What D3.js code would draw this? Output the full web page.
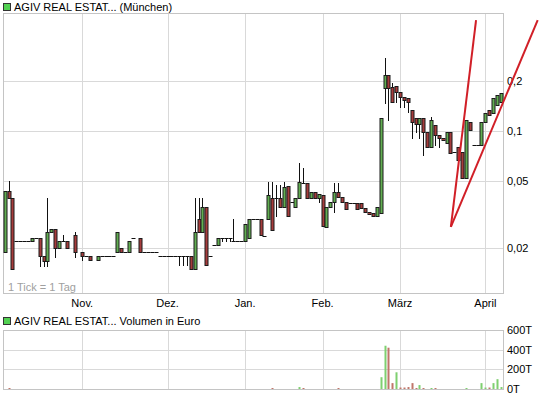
<!DOCTYPE html>
<html>
<head>
<meta charset="utf-8">
<script src="https://cdn.jsdelivr.net/npm/d3@7"></script>
<style>
body{margin:0;background:#fff}
svg{display:block;font-family:"Liberation Sans",Arial,sans-serif;font-size:11px}
</style>
</head>
<body>
<svg id="chart" width="545" height="398"></svg>
<script>
var title = "AGIV REAL ESTAT... (München)"
var volTitle = "AGIV REAL ESTAT... Volumen in Euro"
var tickNote = "1 Tick = 1 Tag"

// one entry per trading day, null = no quote
var open = [.0189,.0437,.0397,.022,.022,.022,.022,.022,.0229,.0229,
  .0179,.0167,.0248,.0259,.0199,.022,.022,null,.0238,null,
  .0189,.0179,.0179,null,.0169,.0179,.0179,.0179,.0179,.0189,
  .0199,.0189,.0189,.0229,null,.0229,.0189,.0189,.0189,.0189,
  .0179,.0179,.0179,.0179,.0179,.0179,.0179,.0179,.0179,.0149,
  .0297,.0248,.0351,.0179,.0208,.0208,.0229,.0229,.0229,.022,
  .022,.022,.022,.0229,.0297,.0297,.0297,.0235,.0297,.0397,
  .0397,.0397,.0351,.0469,.0375,.0351,.0397,.0488,.0488,.0397,
  .0431,.0397,.0414,.0266,.0351,.0376,.0431,.0403,.0376,.0371,
  .0371,.0371,.0371,.0346,.0327,.0323,.031,.0323,.1809,.2164,
  .1834,.186,.1712,.1598,.1576,.1336,.1196,.1101,.1196,.0986,
  .0802,.1086,.0946,.0908,.0847,.0986,.0749,.0802,.0749,.0523,
  .1132,.0824,.0824,.0824,.1132,.1336,.1282,.1431,.1492]
var high = [.0437,.0502,.0397,.022,.022,.022,.022,.0229,.0229,.0229,
  .0179,.0397,.0259,.0259,.022,.0238,.022,null,.0248,null,
  .0189,.0179,.0179,null,.0179,.0179,.0179,.0179,.0179,.0248,
  .0199,.0189,.022,.0229,null,.0229,.0189,.0189,.0189,.0189,
  .0179,.0179,.0179,.0179,.0179,.0179,.0179,.0179,.0179,.0397,
  .0397,.0397,.0351,.0179,.0208,.0229,.0229,.0229,.0229,.0297,
  .022,.022,.0277,.0297,.0297,.0297,.0297,.0235,.0495,.0495,
  .0475,.0475,.0495,.0469,.0375,.0397,.0643,.06,.0488,.0431,
  .0431,.042,.0414,.0351,.0376,.0488,.0488,.0403,.0376,.0371,
  .0371,.0371,.0371,.0346,.0327,.0323,.0351,.1196,.2736,.2164,
  .1938,.186,.1712,.1598,.1576,.1336,.1196,.1196,.1196,.0986,
  .1213,.1086,.0946,.0908,.0986,.0986,.0749,.0802,.0749,.1164,
  .1132,.0824,.0824,.1132,.1282,.1336,.1576,.1643,.1689]
var low = [.0189,.0397,.0149,.022,.022,.022,.022,.022,.0229,.0155,
  .0155,.0155,.0248,.0176,.0199,.022,.0199,null,.0176,null,
  .0169,.0179,.0169,null,.0169,.0179,.0179,.0179,.0179,.0189,
  .0189,.0189,.0189,.0229,null,.0189,.0189,.0189,.0189,.0189,
  .0179,.0179,.0179,.0179,.0179,.0158,.0158,.0158,.0149,.0149,
  .0248,.0248,.0158,.0179,.0208,.0208,.022,.022,.022,.022,
  .022,.022,.022,.0229,.0297,.0297,.0238,.0235,.0297,.0255,
  .031,.0351,.0351,.031,.0375,.0351,.0397,.0488,.0397,.0397,
  .0397,.0376,.027,.0266,.0351,.0327,.0403,.0376,.0341,.0371,
  .0371,.0341,.0346,.0327,.0318,.031,.031,.0323,.1472,.1164,
  .1492,.1492,.1392,.1392,.13,.0908,.0986,.0908,.0718,.0802,
  .0802,.0824,.0802,.0883,.0847,.0738,.0749,.067,.0523,.0523,
  .1014,.0824,.0824,.0824,.1132,.1247,.1282,.1431,.1492]
var close = [.0437,.0397,.0149,.022,.022,.022,.022,.0229,.0229,.0179,
  .0167,.0248,.0259,.0199,.022,.022,.0199,null,.0189,null,
  .0179,.0179,.0169,null,.0179,.0179,.0179,.0179,.0179,.0248,
  .0189,.0189,.022,.0229,null,.0189,.0189,.0189,.0189,.0189,
  .0179,.0179,.0179,.0179,.0179,.0179,.0179,.0179,.0149,.0248,
  .0248,.0351,.0158,.0179,.0208,.0229,.0229,.0229,.0229,.022,
  .022,.022,.0277,.0297,.0297,.0297,.0238,.0235,.0414,.0255,
  .0397,.0351,.0462,.031,.0375,.0397,.0495,.0488,.0397,.0431,
  .0397,.042,.027,.0351,.0376,.0431,.0403,.0376,.0341,.0371,
  .0371,.0341,.0346,.0327,.0318,.031,.0351,.1196,.2164,.1809,
  .1492,.1712,.1598,.1533,.1492,.1132,.1101,.1196,.0986,.0802,
  .1164,.0946,.0908,.0883,.0986,.0738,.0749,.067,.0523,.1164,
  .1014,.0824,.0824,.1132,.1282,.1247,.1576,.1643,.1689]
// volume in thousand euro
var volume = [0,5,0,0,0,0,0,0,0,0,
  0,0,0,0,0,0,0,0,0,0,
  0,0,0,0,0,0,0,0,0,0,
  0,0,0,0,0,0,0,0,0,0,
  0,0,0,0,0,0,0,0,0,0,
  0,0,0,0,0,0,0,0,0,0,
  0,0,0,0,0,0,0,0,0,8,
  0,0,0,0,0,0,20,10,0,0,
  0,0,0,0,0,0,5,0,0,0,
  0,0,0,0,0,0,0,120,440,420,
  60,170,15,15,20,60,10,40,10,0,
  10,8,0,0,0,0,0,0,0,8,
  0,0,0,60,15,15,60,100,20]

var monthIdx = [20, 42, 62, 82, 102, 124]
var monthLabels = ["Nov.", "Dez.", "Jan.", "Feb.", "März", "April"]
var priceTicks = [0.02, 0.05, 0.1, 0.2]
var priceLabels = ["0,02", "0,05", "0,1", "0,2"]
var volTicks = [0, 200, 400, 600]
var volLabels = ["0T", "200T", "400T", "600T"]
// hand drawn trend lines [dayIndex, price]
var trendA = [[115.1, 0.0266], [121.6, 0.462]]
var trendB = [[115.1, 0.0266], [137.5, 0.462]]

var svg = d3.select("#chart")
var L = 3, R = 503, T = 13, B = 293
var vT = 330, vB = 389
var grid = "#d9d9d9", frame = "#c4c4c4"
var gFill = "#62ae52", rFill = "#a63c3c"

var x = d3.scaleLinear().domain([-0.45, open.length - 0.45]).range([L, R])
var y = d3.scaleLog().domain([0.0107, 0.509]).range([B, T])
var yv = d3.scaleLinear().domain([0, 600]).range([vB, vT])
var px = function(i) { return Math.round(x(i)) + 0.5 }

// titles
function header(ty, txt) {
    svg.append("rect").attr("x", 3.5).attr("y", ty - 7.5).attr("width", 7).attr("height", 7)
        .attr("fill", "#52d152").attr("stroke", "#333")
    svg.append("text").attr("x", 14).attr("y", ty).text(txt)
}
header(11, title)
header(325, volTitle)

// price panel grid
var main = svg.append("g")
main.selectAll(".hg").data(priceTicks).enter().append("line")
    .attr("x1", L).attr("x2", R)
    .attr("y1", function(d) { return Math.round(y(d)) + 0.5 })
    .attr("y2", function(d) { return Math.round(y(d)) + 0.5 })
    .attr("stroke", grid)
main.selectAll(".vg").data(monthIdx).enter().append("line")
    .attr("x1", px).attr("x2", px).attr("y1", T).attr("y2", B)
    .attr("stroke", grid)
main.append("rect").attr("x", L + 0.5).attr("y", T + 0.5).attr("width", R - L).attr("height", B - T)
    .attr("fill", "none").attr("stroke", frame)

main.selectAll(".pl").data(priceTicks).enter().append("text")
    .attr("x", 507).attr("y", function(d) { return y(d) + 4 })
    .text(function(d, i) { return priceLabels[i] })
main.selectAll(".ml").data(monthIdx).enter().append("text")
    .attr("x", function(d) { return x(d) }).attr("y", 307).attr("text-anchor", "middle")
    .text(function(d, i) { return monthLabels[i] })
main.append("text").attr("x", 8).attr("y", 291).attr("fill", "#a0a0a0").text(tickNote)

// candles
var days = d3.range(open.length).filter(function(i) { return open[i] != null })
var cg = main.append("g")
days.forEach(function(i) {
    var cx = px(i)
    if (high[i] > low[i]) {
        cg.append("line").attr("x1", cx).attr("x2", cx)
            .attr("y1", Math.round(y(high[i]))).attr("y2", Math.round(y(low[i])) + 1)
            .attr("stroke", "#111")
    }
    var y0 = Math.round(y(Math.max(open[i], close[i])))
    var y1 = Math.round(y(Math.min(open[i], close[i])))
    if (y1 - y0 < 1) {
        cg.append("line").attr("x1", cx - 2).attr("x2", cx + 2)
            .attr("y1", y0 + 0.5).attr("y2", y0 + 0.5).attr("stroke", "#111")
    } else {
        cg.append("rect").attr("x", cx - 1.5).attr("y", y0 + 0.5)
            .attr("width", 3).attr("height", y1 - y0)
            .attr("fill", close[i] > open[i] ? gFill : rFill)
            .attr("stroke", "#1a1a1a")
    }
})

// trend lines
var tl = d3.line().x(function(d) { return x(d[0]) }).y(function(d) { return y(d[1]) })
;[trendA, trendB].forEach(function(t) {
    svg.append("path").attr("d", tl(t)).attr("fill", "none")
        .attr("stroke", "#d11f27").attr("stroke-width", 2)
})

// volume panel
var vol = svg.append("g")
vol.selectAll(".vh").data(volTicks.slice(1, 3)).enter().append("line")
    .attr("x1", L).attr("x2", R)
    .attr("y1", function(d) { return Math.round(yv(d)) + 0.5 })
    .attr("y2", function(d) { return Math.round(yv(d)) + 0.5 })
    .attr("stroke", grid)
vol.selectAll(".vv").data(monthIdx).enter().append("line")
    .attr("x1", px).attr("x2", px).attr("y1", vT).attr("y2", vB)
    .attr("stroke", grid)
vol.append("rect").attr("x", L + 0.5).attr("y", vT + 0.5).attr("width", R - L).attr("height", vB - vT)
    .attr("fill", "none").attr("stroke", frame)
vol.selectAll(".vl").data(volTicks).enter().append("text")
    .attr("x", 507).attr("y", function(d) { return yv(d) + 4 })
    .text(function(d, i) { return volLabels[i] })

var prevClose = function(i) {
    for (var k = i - 1; k >= 0; k--) if (close[k] != null) return close[k]
    return open[i]
}
vol.selectAll(".vb").data(days.filter(function(i) { return volume[i] > 0 })).enter().append("rect")
    .attr("x", function(i) { return px(i) - 1 })
    .attr("width", 2)
    .attr("y", function(i) { return Math.min(yv(volume[i]), vB - 1) })
    .attr("height", function(i) { return Math.max(vB - yv(volume[i]), 1) })
    .attr("fill", function(i) { return close[i] >= prevClose(i) ? "#7fd070" : "#c0766a" })
</script>
</body>
</html>
